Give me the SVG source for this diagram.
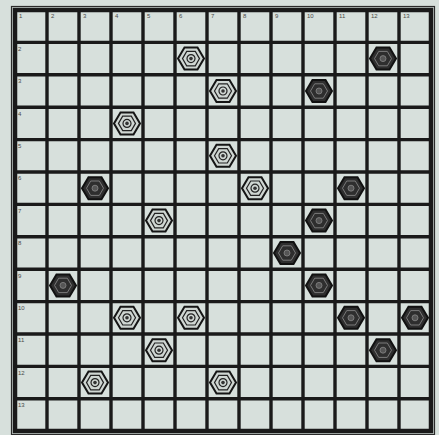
<svg xmlns="http://www.w3.org/2000/svg" xmlns:xlink="http://www.w3.org/1999/xlink" width="439" height="435" viewBox="0 0 439 435">
<style>
.bg{fill:#d7e0dc}
.grid line{stroke:#1a1a1a;stroke-width:3.4;stroke-linecap:square}
.border{fill:none;stroke:#1a1a1a;stroke-width:4.5}
.border2{fill:none;stroke:#2a2a2a;stroke-width:1.2}
.lbl{font-family:"Liberation Sans",sans-serif;font-size:6px;fill:#4a4a4a}
.ho{fill:#cfd6d2;stroke:#151515;stroke-width:2}
.hi{fill:none;stroke:#222;stroke-width:1.2}
.hc{fill:#333}
.dho{fill:#2e2e2e;stroke:#111;stroke-width:2}
.dhi{fill:none;stroke:#7a7a7a;stroke-width:1}
.dhc{fill:#555;stroke:#888;stroke-width:0.8}
</style>
<defs>
<g id="hexL">
<polygon class="ho" points="-13,0 -6.5,-11 6.5,-11 13,0 6.5,11 -6.5,11"/>
<polygon class="hi" points="-8.5,0 -4.3,-7.2 4.3,-7.2 8.5,0 4.3,7.2 -4.3,7.2"/>
<circle class="hi" r="4"/>
<circle class="hc" r="1.8"/>
</g>
<g id="hexD">
<polygon class="dho" points="-13,0 -6.5,-11 6.5,-11 13,0 6.5,11 -6.5,11"/>
<polygon class="dhi" points="-8.5,0 -4.3,-7.2 4.3,-7.2 8.5,0 4.3,7.2 -4.3,7.2"/>
<circle class="dhc" r="3"/>
</g>
</defs>
<rect class="bg" x="0" y="0" width="439" height="435"/>
<g id="board">
<g class="grid">
<line x1="47" y1="10" x2="47" y2="431"/>
<line x1="79" y1="10" x2="79" y2="431"/>
<line x1="111" y1="10" x2="111" y2="431"/>
<line x1="143" y1="10" x2="143" y2="431"/>
<line x1="175" y1="10" x2="175" y2="431"/>
<line x1="207" y1="10" x2="207" y2="431"/>
<line x1="239" y1="10" x2="239" y2="431"/>
<line x1="271" y1="10" x2="271" y2="431"/>
<line x1="303" y1="10" x2="303" y2="431"/>
<line x1="335" y1="10" x2="335" y2="431"/>
<line x1="367" y1="10" x2="367" y2="431"/>
<line x1="399" y1="10" x2="399" y2="431"/>
<line x1="15" y1="42.4" x2="431" y2="42.4"/>
<line x1="15" y1="74.8" x2="431" y2="74.8"/>
<line x1="15" y1="107.2" x2="431" y2="107.2"/>
<line x1="15" y1="139.6" x2="431" y2="139.6"/>
<line x1="15" y1="172" x2="431" y2="172"/>
<line x1="15" y1="204.4" x2="431" y2="204.4"/>
<line x1="15" y1="236.8" x2="431" y2="236.8"/>
<line x1="15" y1="269.2" x2="431" y2="269.2"/>
<line x1="15" y1="301.6" x2="431" y2="301.6"/>
<line x1="15" y1="334" x2="431" y2="334"/>
<line x1="15" y1="366.4" x2="431" y2="366.4"/>
<line x1="15" y1="398.8" x2="431" y2="398.8"/>
</g>
<rect class="border" x="15" y="10" width="416" height="421"/>
<rect class="border2" x="11.5" y="6.5" width="423" height="428"/>
</g>
<g id="labels">
<text class="lbl" x="19" y="18">1</text>
<text class="lbl" x="51" y="18">2</text>
<text class="lbl" x="83" y="18">3</text>
<text class="lbl" x="115" y="18">4</text>
<text class="lbl" x="147" y="18">5</text>
<text class="lbl" x="179" y="18">6</text>
<text class="lbl" x="211" y="18">7</text>
<text class="lbl" x="243" y="18">8</text>
<text class="lbl" x="275" y="18">9</text>
<text class="lbl" x="307" y="18">10</text>
<text class="lbl" x="339" y="18">11</text>
<text class="lbl" x="371" y="18">12</text>
<text class="lbl" x="403" y="18">13</text>
<text class="lbl" x="18" y="51">2</text>
<text class="lbl" x="18" y="83">3</text>
<text class="lbl" x="18" y="116">4</text>
<text class="lbl" x="18" y="148">5</text>
<text class="lbl" x="18" y="180">6</text>
<text class="lbl" x="18" y="213">7</text>
<text class="lbl" x="18" y="245">8</text>
<text class="lbl" x="18" y="278">9</text>
<text class="lbl" x="18" y="310">10</text>
<text class="lbl" x="18" y="342">11</text>
<text class="lbl" x="18" y="375">12</text>
<text class="lbl" x="18" y="407">13</text>
</g>
<g id="pieces">
<g id="p1"><use xlink:href="#hexL" x="191" y="58.6"/></g>
<g id="p2"><use xlink:href="#hexD" x="383" y="58.6"/></g>
<g id="p3"><use xlink:href="#hexL" x="223" y="91"/></g>
<g id="p4"><use xlink:href="#hexD" x="319" y="91"/></g>
<g id="p5"><use xlink:href="#hexL" x="127" y="123.4"/></g>
<g id="p6"><use xlink:href="#hexL" x="223" y="155.8"/></g>
<g id="p7"><use xlink:href="#hexD" x="95" y="188.2"/></g>
<g id="p8"><use xlink:href="#hexL" x="255" y="188.2"/></g>
<g id="p9"><use xlink:href="#hexD" x="351" y="188.2"/></g>
<g id="p10"><use xlink:href="#hexL" x="159" y="220.6"/></g>
<g id="p11"><use xlink:href="#hexD" x="319" y="220.6"/></g>
<g id="p12"><use xlink:href="#hexD" x="287" y="253"/></g>
<g id="p13"><use xlink:href="#hexD" x="63" y="285.4"/></g>
<g id="p14"><use xlink:href="#hexD" x="319" y="285.4"/></g>
<g id="p15"><use xlink:href="#hexL" x="127" y="317.8"/></g>
<g id="p16"><use xlink:href="#hexL" x="191" y="317.8"/></g>
<g id="p17"><use xlink:href="#hexD" x="351" y="317.8"/></g>
<g id="p18"><use xlink:href="#hexD" x="415" y="317.8"/></g>
<g id="p19"><use xlink:href="#hexL" x="159" y="350.2"/></g>
<g id="p20"><use xlink:href="#hexD" x="383" y="350.2"/></g>
<g id="p21"><use xlink:href="#hexL" x="95" y="382.6"/></g>
<g id="p22"><use xlink:href="#hexL" x="223" y="382.6"/></g>
</g>
</svg>
